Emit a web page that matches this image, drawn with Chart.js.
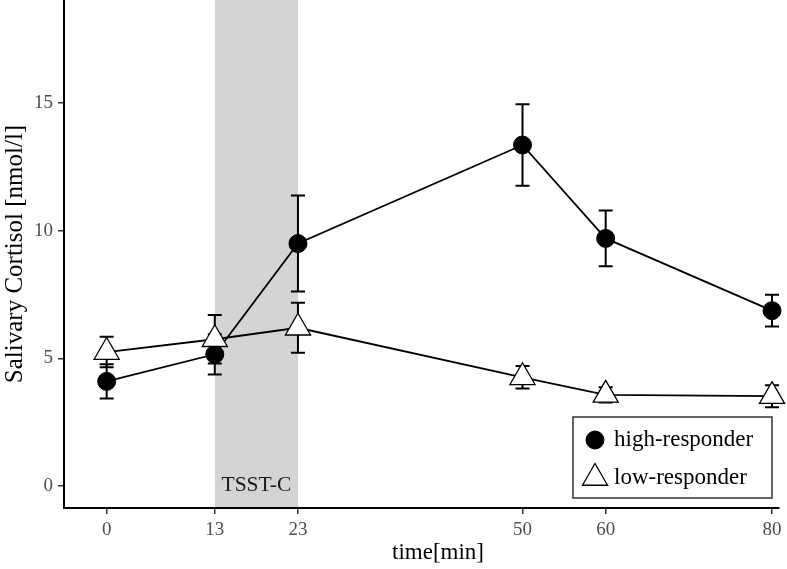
<!DOCTYPE html>
<html>
<head>
<meta charset="utf-8">
<script src="https://cdn.jsdelivr.net/npm/chart.js@4/dist/chart.umd.min.js"></script>
<style>
  html, body { margin: 0; padding: 0; background: #fff; }
  #wrap { width: 787px; height: 569px; }
</style>
</head>
<body>
<div id="wrap"><canvas id="cortisolChart" width="787" height="569"></canvas></div>
<script>
// time points (minutes) and cortisol means / standard errors
const timePoints = [0, 13, 23, 50, 60, 80];
const highMean = [4.1, 5.16, 9.5, 13.36, 9.7, 6.87];
const highSE = [0.67, 0.79, 1.88, 1.6, 1.09, 0.62];
const lowMean = [5.25, 5.75, 6.2, 4.26, 3.57, 3.52];
const lowSE = [0.6, 0.95, 0.98, 0.44, 0.3, 0.43];
const yTicks = [0, 5, 10, 15];
const stressWindow = [13, 23];
const stressLabel = 'TSST-C';

const serif = '"Liberation Serif", "DejaVu Serif", serif';

const toPoints = (means) => timePoints.map((t, i) => ({ x: t, y: means[i] }));

// grey band for the stress task + error bars + legend box
const extras = {
  id: 'extras',
  beforeDraw(chart) {
    const { ctx, chartArea, scales } = chart;
    const x0 = scales.x.getPixelForValue(stressWindow[0]);
    const x1 = scales.x.getPixelForValue(stressWindow[1]);
    ctx.save();
    ctx.fillStyle = '#d4d4d4';
    ctx.fillRect(x0, chartArea.top, x1 - x0, chartArea.bottom - chartArea.top);
    ctx.fillStyle = '#1a1a1a';
    ctx.font = '21.5px ' + serif;
    ctx.textAlign = 'center';
    ctx.textBaseline = 'middle';
    ctx.fillText(stressLabel, scales.x.getPixelForValue((stressWindow[0] + stressWindow[1]) / 2), scales.y.getPixelForValue(0) - 1);
    ctx.restore();
  },
  beforeDatasetsDraw(chart) {
    const { ctx, scales } = chart;
    ctx.save();
    ctx.strokeStyle = '#000';
    ctx.lineWidth = 2;
    const bars = (means, se) => {
      timePoints.forEach((t, i) => {
        const x = scales.x.getPixelForValue(t);
        const yt = scales.y.getPixelForValue(means[i] + se[i]);
        const yb = scales.y.getPixelForValue(means[i] - se[i]);
        ctx.beginPath();
        ctx.moveTo(x, yt); ctx.lineTo(x, yb);
        ctx.moveTo(x - 7, yt); ctx.lineTo(x + 7, yt);
        ctx.moveTo(x - 7, yb); ctx.lineTo(x + 7, yb);
        ctx.stroke();
      });
    };
    bars(highMean, highSE);
    bars(lowMean, lowSE);
    ctx.restore();
  },
  afterDraw(chart) {
    const { ctx } = chart;
    ctx.save();
    // x axis title
    ctx.fillStyle = '#000';
    ctx.font = '23px ' + serif;
    ctx.textAlign = 'center';
    ctx.textBaseline = 'middle';
    ctx.fillText('time[min]', 438, 553);

    // legend
    const bx = 573, by = 417, bw = 199, bh = 81;
    ctx.fillStyle = '#fff';
    ctx.fillRect(bx, by, bw, bh);
    ctx.strokeStyle = '#333';
    ctx.lineWidth = 1.5;
    ctx.strokeRect(bx, by, bw, bh);
    ctx.font = '23px ' + serif;
    ctx.textAlign = 'left';
    chart.data.datasets.forEach((ds, i) => {
      const cy = by + 23 + i * 38;
      ctx.fillStyle = ds.pointBackgroundColor;
      ctx.strokeStyle = '#000';
      ctx.lineWidth = ds.pointBorderWidth;
      Chart.helpers.drawPoint(ctx, { pointStyle: ds.pointStyle, radius: ds.pointRadius, borderWidth: ds.pointBorderWidth, rotation: 0 }, 595, cy);
      ctx.fillStyle = '#000';
      ctx.fillText(ds.label, 614, cy);
    });
    ctx.restore();
  }
};

const ctx = document.getElementById('cortisolChart').getContext('2d');
const cortisolChart = new Chart(ctx, {
  type: 'line',
  data: {
    datasets: [
      {
        label: 'high-responder',
        data: toPoints(highMean),
        borderColor: '#000',
        borderWidth: 1.8,
        pointStyle: 'circle',
        pointRadius: 9,
        pointBackgroundColor: '#000',
        pointBorderColor: '#000',
        pointBorderWidth: 1,
        clip: false,
        order: 1,
      },
      {
        label: 'low-responder',
        data: toPoints(lowMean),
        borderColor: '#000',
        borderWidth: 1.8,
        pointStyle: 'triangle',
        pointRadius: 14.5,
        pointBackgroundColor: '#fff',
        pointBorderColor: '#000',
        pointBorderWidth: 1.3,
        clip: false,
        order: 0,
      },
    ],
  },
  options: {
    responsive: false,
    animation: false,
    layout: { autoPadding: false, padding: { top: 0, right: 8, left: 0, bottom: 0 } },
    scales: {
      x: {
        type: 'linear',
        min: -5.13,
        max: 80.84,
        afterFit: (scale) => {
          scale.height = 61;
          scale.paddingLeft = 0;
          scale.paddingRight = 0;
        },
        afterBuildTicks: (scale) => { scale.ticks = timePoints.map((v) => ({ value: v })); },
        border: { display: true, color: '#000', width: 2 },
        grid: { drawOnChartArea: false, drawTicks: true, tickLength: 6, color: '#333', lineWidth: 1.5 },
        ticks: { color: '#4d4d4d', font: { family: serif, size: 19 }, padding: 5, maxRotation: 0 },
      },
      y: {
        type: 'linear',
        min: -0.86,
        max: 19.04,
        afterFit: (scale) => {
          scale.width = 64;
          scale.paddingTop = 0;
          scale.paddingBottom = 0;
        },
        afterBuildTicks: (scale) => { scale.ticks = yTicks.map((v) => ({ value: v })); },
        border: { display: true, color: '#000', width: 2 },
        grid: { drawOnChartArea: false, drawTicks: true, tickLength: 6, color: '#333', lineWidth: 1.5 },
        ticks: { color: '#4d4d4d', font: { family: serif, size: 19 }, padding: 5 },
        title: {
          display: true,
          text: 'Salivary Cortisol [nmol/l]',
          color: '#000',
          font: { family: serif, size: 25 },
          padding: { top: 0, bottom: 0 },
        },
      },
    },
    plugins: {
      legend: { display: false },
      tooltip: { enabled: false },
    },
  },
  plugins: [extras],
});
</script>
</body>
</html>
